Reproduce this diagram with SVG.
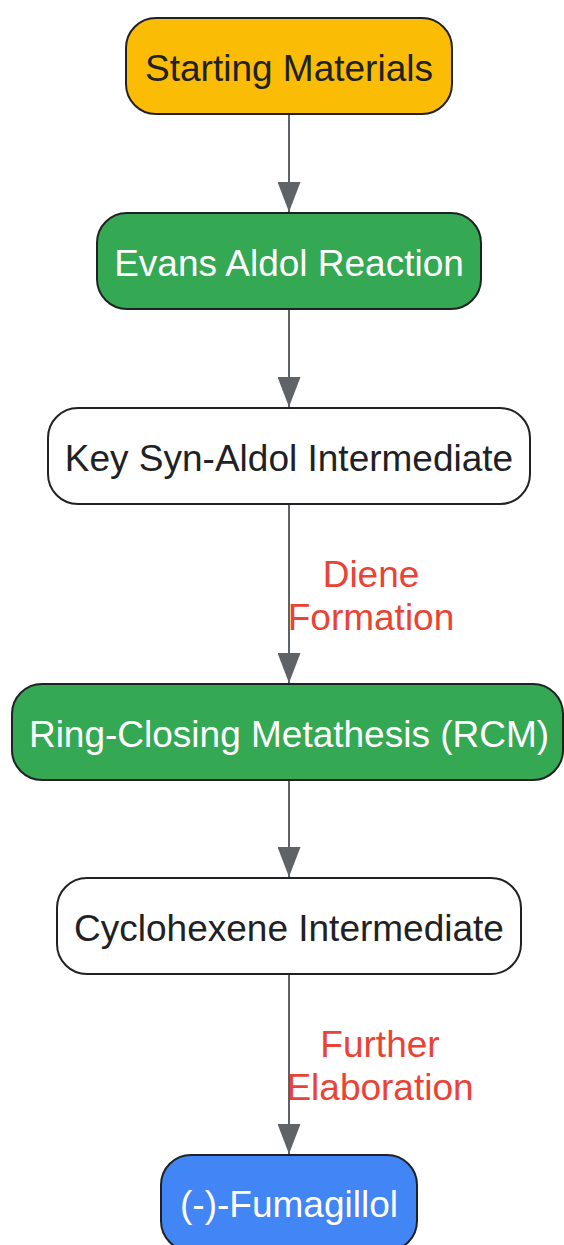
<svg xmlns="http://www.w3.org/2000/svg" width="564" height="1245" viewBox="0 0 564 1245">
<defs>
<style>
.n rect{stroke:#202124;stroke-width:2}
.n text{font-family:"Liberation Sans",Arial,sans-serif;font-size:37px;text-anchor:middle}
.dark{fill:#202124}
.light{fill:#ffffff}
.e line{stroke:#5f6368;stroke-width:2}
.lbl{font-family:"Liberation Sans",Arial,sans-serif;font-size:37px;text-anchor:middle;fill:#EA4335}
</style>
<marker id="ah" viewBox="0 0 23 30" refX="23" refY="11.5" markerWidth="23" markerHeight="30" markerUnits="userSpaceOnUse" orient="auto">
<path d="M0,0 L30,11.5 L0,23 Z" fill="#5f6368"/>
</marker>
<marker id="arr" viewBox="0 0 30 23" refX="30" refY="11.5" markerWidth="30" markerHeight="23" markerUnits="userSpaceOnUse" orient="auto">
<path d="M0,0 L30,11.5 L0,23 Z" fill="#5f6368"/>
</marker>
</defs>
<rect width="564" height="1245" fill="#ffffff"/>
<g id="edges" class="e">
<line x1="289" y1="114" x2="289" y2="212" marker-end="url(#arr)"/>
<line x1="289" y1="309" x2="289" y2="407" marker-end="url(#arr)"/>
<line x1="289" y1="504" x2="289" y2="683" marker-end="url(#arr)"/>
<line x1="289" y1="780" x2="289" y2="877" marker-end="url(#arr)"/>
<line x1="289" y1="974" x2="289" y2="1154" marker-end="url(#arr)"/>
<text class="lbl" x="371" y="587">Diene</text>
<text class="lbl" x="371" y="630">Formation</text>
<text class="lbl" x="380" y="1057">Further</text>
<text class="lbl" x="380" y="1100">Elaboration</text>
</g>
<g id="n1" class="n">
<rect x="126" y="18" width="326" height="96" rx="30" fill="#FBBC05"/>
<text class="dark" x="289" y="81">Starting Materials</text>
</g>
<g id="n2" class="n">
<rect x="97" y="213" width="384" height="96" rx="30" fill="#34A853"/>
<text class="light" x="289" y="276">Evans Aldol Reaction</text>
</g>
<g id="n3" class="n">
<rect x="48" y="408" width="482" height="96" rx="30" fill="#ffffff"/>
<text class="dark" x="289" y="471">Key Syn-Aldol Intermediate</text>
</g>
<g id="n4" class="n">
<rect x="12" y="684" width="551" height="96" rx="30" fill="#34A853"/>
<text class="light" x="289" y="747">Ring-Closing Metathesis (RCM)</text>
</g>
<g id="n5" class="n">
<rect x="57" y="878" width="464" height="96" rx="30" fill="#ffffff"/>
<text class="dark" x="289" y="941">Cyclohexene Intermediate</text>
</g>
<g id="n6" class="n">
<rect x="161" y="1155" width="256" height="96" rx="30" fill="#4285F4"/>
<text class="light" x="289" y="1217">(-)-Fumagillol</text>
</g>
</svg>
